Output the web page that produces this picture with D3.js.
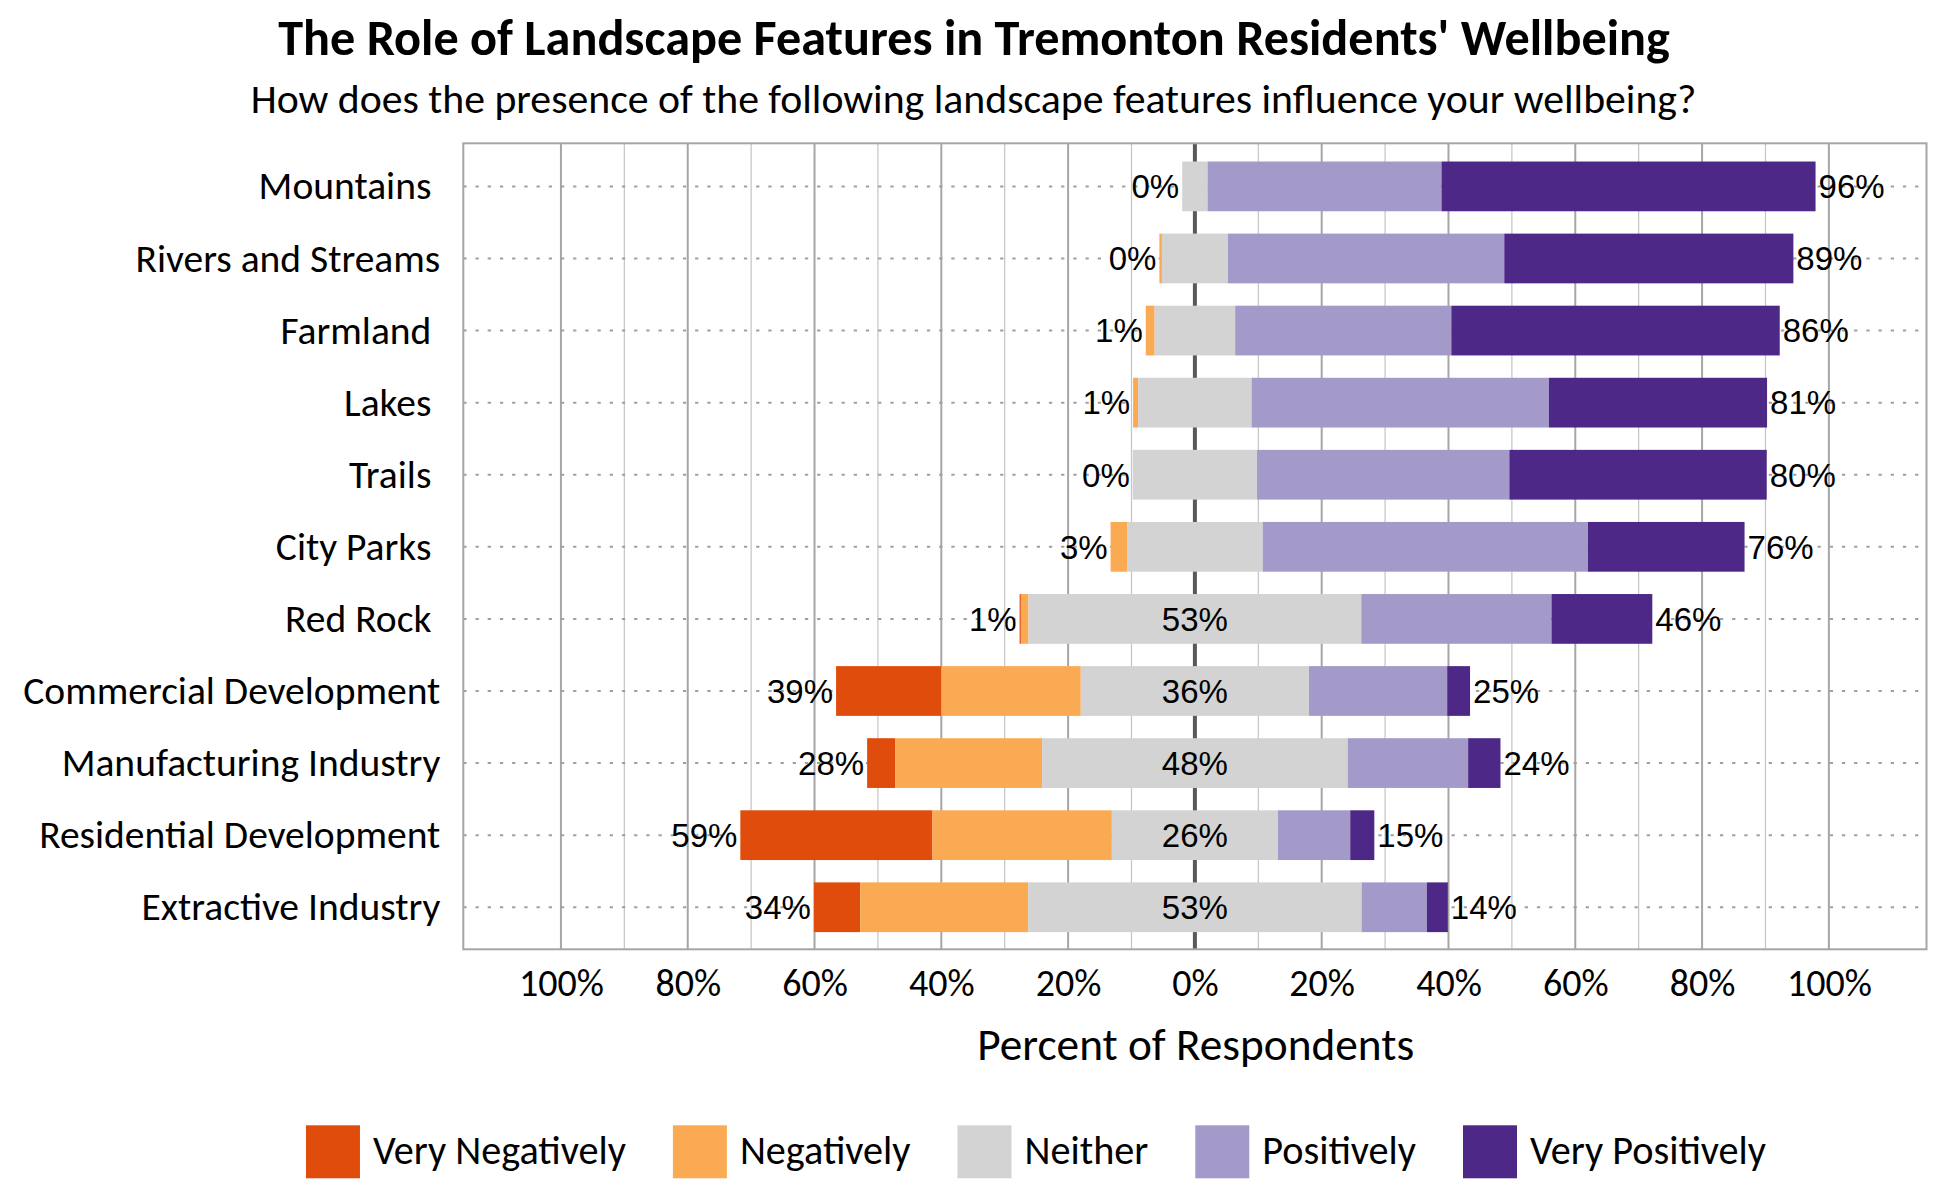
<!DOCTYPE html>
<html>
<head>
<meta charset="utf-8">
<script src="https://cdn.jsdelivr.net/npm/d3@7/dist/d3.min.js"></script>
<style>
  html, body { margin: 0; padding: 0; background: #ffffff; }
  svg { display: block; }
  .pre { white-space: pre; }
</style>
</head>
<body>
<div id="chart"></div>
<script>
// ---------------- DATA ----------------
const chartTitle = "The Role of Landscape Features in Tremonton Residents' Wellbeing";
const chartSubtitle = "How does the presence of the following landscape features influence your wellbeing?";
const axisTitle = "Percent of Respondents";

const categories = [
  "Mountains ",
  "Rivers and Streams",
  "Farmland ",
  "Lakes ",
  "Trails ",
  "City Parks ",
  "Red Rock ",
  "Commercial Development",
  "Manufacturing Industry",
  "Residential Development",
  "Extractive Industry"
];

const seriesNames = ["Very Negatively", "Negatively", "Neither", "Positively", "Very Positively"];

// percent of respondents
const veryNegatively = [0,    0,    0,    0,    0,    0,    0.2, 16.6,  4.4, 30.3,  7.3];
const negatively     = [0,    0.4,  1.4,  0.8,  0,    2.6,  1.2, 22.0, 23.2, 28.3, 26.5];
const neither        = [4.0, 10.4, 12.7, 17.9, 19.6, 21.4, 52.5, 36.0, 48.2, 26.2, 52.6];
const positively     = [36.9, 43.6, 34.1, 46.9, 39.8, 51.3, 30.0, 21.8, 19.0, 11.4, 10.3];
const veryPositively = [59.0, 45.6, 51.8, 34.4, 40.6, 24.7, 15.9,  3.6,  5.1,  3.8,  3.3];

const tickValues = [-100, -80, -60, -40, -20, 0, 20, 40, 60, 80, 100];
const tickLabels = ["100%", "80%", "60%", "40%", "20%", "0%", "20%", "40%", "60%", "80%", "100%"];
const gridMinor = [-90, -70, -50, -30, -10, 10, 30, 50, 70, 90];
const gridMajor = [-100, -80, -60, -40, -20, 20, 40, 60, 80, 100];

// ---------------- STYLE ----------------
const colors = ["#DF4C0B", "#FBAA54", "#D3D3D3", "#A39AC9", "#4D2887"];
const TEXT_FONT = "Carlito, Lato, 'Open Sans', sans-serif";
const VALUE_FONT = "'Liberation Sans', Arial, sans-serif";

const W = 1950, H = 1200;
const plot = { left: 463.3, right: 1926.5, top: 143.3, bottom: 949.3 };

const svg = d3.select("#chart").append("svg")
  .attr("width", W).attr("height", H)
  .style("background", "#fff");

const x = d3.scaleLinear().domain([-115.4, 115.4]).range([plot.left, plot.right]);
const y = d3.scaleBand().domain(categories)
  .range([150.35, 943.3])
  .paddingInner(0.31).paddingOuter(0.155);

function fitWidth(sel, target) {
  const w = sel.node().getComputedTextLength();
  const fs = parseFloat(sel.attr("font-size"));
  if (w > 0) sel.attr("font-size", fs * target / w);
  return sel;
}

// ---------------- TITLES ----------------
const t1 = svg.append("text")
  .attr("x", 974).attr("y", 54.7)
  .attr("text-anchor", "middle")
  .attr("font-family", TEXT_FONT).attr("font-weight", "bold")
  .attr("font-size", 44).attr("fill", "#000")
  .text(chartTitle);
fitWidth(t1, 1392);

const t2 = svg.append("text")
  .attr("x", 973.5).attr("y", 112.9)
  .attr("text-anchor", "middle")
  .attr("font-family", TEXT_FONT)
  .attr("font-size", 34).attr("fill", "#000")
  .text(chartSubtitle);
fitWidth(t2, 1446);

// ---------------- GRID ----------------
const grid = svg.append("g");
grid.selectAll("line.minor").data(gridMinor).join("line")
  .attr("class", "minor")
  .attr("x1", d => x(d)).attr("x2", d => x(d))
  .attr("y1", plot.top).attr("y2", plot.bottom)
  .attr("stroke", "#c4c4c4").attr("stroke-width", 1.2);
grid.selectAll("line.major").data(gridMajor).join("line")
  .attr("class", "major")
  .attr("x1", d => x(d)).attr("x2", d => x(d))
  .attr("y1", plot.top).attr("y2", plot.bottom)
  .attr("stroke", "#a6a6a6").attr("stroke-width", 2);
grid.selectAll("line.row").data(categories).join("line")
  .attr("class", "row")
  .attr("x1", plot.left).attr("x2", plot.right)
  .attr("y1", d => y(d) + y.bandwidth() / 2).attr("y2", d => y(d) + y.bandwidth() / 2)
  .attr("stroke", "#a0a0a0").attr("stroke-width", 2)
  .attr("stroke-dasharray", "3.3 8.9");
grid.append("line")
  .attr("x1", x(0)).attr("x2", x(0))
  .attr("y1", plot.top).attr("y2", plot.bottom)
  .attr("stroke", "#595959").attr("stroke-width", 4);

// ---------------- BARS ----------------
const series = [veryNegatively, negatively, neither, positively, veryPositively];
const rows = categories.map((c, i) => {
  let start = -(veryNegatively[i] + negatively[i] + neither[i] / 2);
  const negStart = start;
  const segs = series.map((s, k) => {
    const x0 = start; start += s[i];
    return { cat: c, k, x0, x1: start };
  });
  return {
    cat: c, segs, negStart, posEnd: start,
    neg: veryNegatively[i] + negatively[i],
    pos: positively[i] + veryPositively[i],
    neu: neither[i]
  };
});

const barG = svg.append("g");
barG.selectAll("g.row").data(rows).join("g").attr("class", "row")
  .selectAll("rect").data(d => d.segs.filter(s => s.x1 > s.x0)).join("rect")
  .attr("x", s => x(s.x0))
  .attr("width", s => x(s.x1) - x(s.x0))
  .attr("y", s => y(s.cat))
  .attr("height", y.bandwidth())
  .attr("fill", s => colors[s.k]);

// frame
svg.append("rect")
  .attr("x", plot.left).attr("y", plot.top)
  .attr("width", plot.right - plot.left).attr("height", plot.bottom - plot.top)
  .attr("fill", "none").attr("stroke", "#a6a6a6").attr("stroke-width", 2);

// ---------------- VALUE LABELS ----------------
const VFS = 33;
const fmt = v => Math.round(v) + "%";
const lab = svg.append("g").attr("font-family", VALUE_FONT).attr("font-size", VFS).attr("fill", "#000");
const cy = d => y(d.cat) + y.bandwidth() / 2 + VFS * 0.358;
lab.selectAll("text.neg").data(rows).join("text").attr("class", "neg")
  .attr("x", d => x(d.negStart) - 3).attr("y", cy)
  .attr("text-anchor", "end").text(d => fmt(d.neg));
lab.selectAll("text.pos").data(rows).join("text").attr("class", "pos")
  .attr("x", d => x(d.posEnd) + 3).attr("y", cy)
  .attr("text-anchor", "start").text(d => fmt(d.pos));
lab.selectAll("text.neu").data(rows.filter(d => d.neu >= 25)).join("text").attr("class", "neu")
  .attr("x", x(0)).attr("y", cy)
  .attr("text-anchor", "middle").text(d => fmt(d.neu));

// ---------------- CATEGORY LABELS ----------------
const catG = svg.append("g");
const catTexts = catG.selectAll("text").data(categories).join("text")
  .attr("class", "pre")
  .attr("x", 440.3)
  .attr("text-anchor", "end")
  .attr("font-family", TEXT_FONT)
  .attr("font-size", 35)
  .attr("fill", "#000")
  .text(d => d);
{
  const node = catTexts.filter(d => d === "Commercial Development").node();
  const w = node.getComputedTextLength();
  const fs = 35 * 417.3 / w;
  catTexts.attr("font-size", fs)
    .attr("y", d => y(d) + y.bandwidth() / 2 + fs * 0.33);
}

// ---------------- X AXIS ----------------
const axis = d3.axisBottom(x)
  .tickValues(tickValues)
  .tickFormat((d, i) => tickLabels[i])
  .tickSize(0).tickPadding(0);
const axG = svg.append("g").attr("transform", `translate(0,${plot.bottom})`).call(axis);
axG.select(".domain").remove();
axG.selectAll("text")
  .attr("font-family", TEXT_FONT).attr("font-size", 34).attr("fill", "#000")
  .attr("dy", null).attr("y", 0);
{
  const first = axG.select(".tick text").node();
  const w = first.getComputedTextLength();
  const fs = 34 * 85 / w;
  axG.selectAll("text").attr("font-size", fs).attr("y", 996 - plot.bottom);
}

const at = svg.append("text")
  .attr("x", 1195.7).attr("y", 1060)
  .attr("text-anchor", "middle")
  .attr("font-family", TEXT_FONT).attr("font-size", 36).attr("fill", "#000")
  .text(axisTitle);
fitWidth(at, 437);

// ---------------- LEGEND ----------------
const legend = svg.append("g");
const items = legend.selectAll("g").data(seriesNames).join("g");
items.append("rect")
  .attr("width", 54).attr("height", 53)
  .attr("y", 1125.3)
  .attr("fill", (d, i) => colors[i]);
const legTexts = items.append("text")
  .attr("x", 67).attr("y", 1164)
  .attr("font-family", TEXT_FONT).attr("font-size", 35).attr("fill", "#000")
  .text(d => d);
{
  const w0 = legTexts.node().getComputedTextLength();
  const fs = 35 * 253 / w0;
  legTexts.attr("font-size", fs);
  let cx = 0;
  const offs = [];
  legTexts.each(function () {
    offs.push(cx);
    cx += 67 + this.getComputedTextLength() + 47;
  });
  const total = cx - 47;
  const start = 1036 - total / 2;
  items.attr("transform", (d, i) => `translate(${start + offs[i]},0)`);
}
</script>
</body>
</html>
